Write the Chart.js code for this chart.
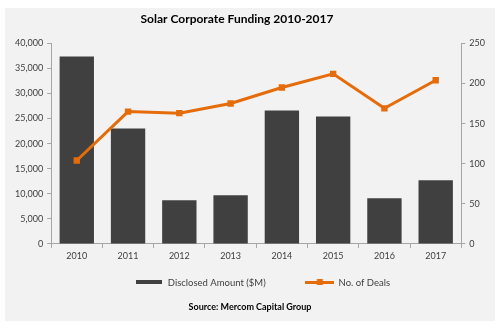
<!DOCTYPE html>
<html>
<head>
<meta charset="utf-8">
<script src="https://cdn.jsdelivr.net/npm/chart.js@4/dist/chart.umd.min.js"></script>
<style>
  html, body { margin: 0; padding: 0; background: #fff; }
  body { width: 499px; height: 328px; position: relative; overflow: hidden; }
  .panel { position: absolute; left: 5px; top: 8px; width: 490px; height: 313px; background: #f2f2f2; }
  canvas { display: block; }
</style>
</head>
<body>
<div class="panel"><canvas id="fundingChart" width="490" height="313"></canvas></div>
<script>
// 2010-2017 solar corporate funding
const years = ['2010', '2011', '2012', '2013', '2014', '2015', '2016', '2017'];
const amountMillions = [37400, 23000, 8700, 9700, 26600, 25400, 9100, 12700];
const dealCounts = [104, 165, 163, 175, 195, 212, 169, 204];

const BAR_COLOR = '#404040';
const LINE_COLOR = '#e46c0a';
const AXIS_COLOR = '#a6a6a6';
const TEXT_COLOR = '#404040';
const FONT = 'Lato, "Open Sans", sans-serif';

/**
 * 生成图例图标（柱形色块 / 带方形标记的折线）
 */
function makeLegendIcon(w, h, draw) {
    const c = document.createElement('canvas');
    c.width = w;
    c.height = h;
    draw(c.getContext('2d'), w, h);
    return c;
}

const barIcon = makeLegendIcon(26, 4, (g, w, h) => {
    g.fillStyle = BAR_COLOR;
    g.fillRect(0, 0, w, h);
});

const lineIcon = makeLegendIcon(29, 7, (g, w, h) => {
    g.fillStyle = LINE_COLOR;
    g.fillRect(0, 2, w, 3);
    g.fillRect(w / 2 - 3, 0, 6, 6);
});

// 标题略偏左，图例起点固定
const blockOffset = {
    id: 'blockOffset',
    afterLayout(chart) {
        if (chart.titleBlock) {
            chart.titleBlock.left -= 13;
            chart.titleBlock.right -= 13;
        }
        if (chart.legend) {
            chart.legend.left = 116;
            chart.legend.top -= 1;
        }
    }
};

const ctx = document.getElementById('fundingChart').getContext('2d');
new Chart(ctx, {
    data: {
        labels: years,
        datasets: [
            {
                type: 'bar',
                label: 'Disclosed Amount ($M)',
                data: amountMillions,
                backgroundColor: BAR_COLOR,
                borderWidth: 0,
                barPercentage: 0.67,
                categoryPercentage: 1,
                yAxisID: 'y',
                order: 1
            },
            {
                type: 'line',
                label: 'No. of Deals',
                data: dealCounts,
                borderColor: LINE_COLOR,
                backgroundColor: LINE_COLOR,
                borderWidth: 3,
                pointStyle: 'rect',
                pointRadius: 4.5,
                pointBackgroundColor: LINE_COLOR,
                pointBorderWidth: 0,
                tension: 0,
                yAxisID: 'y1',
                order: 0
            }
        ]
    },
    options: {
        responsive: false,
        animation: false,
        layout: { padding: { left: 6, right: 6, top: 0, bottom: 1 } },
        plugins: {
            title: {
                display: true,
                text: 'Solar Corporate Funding 2010-2017',
                color: '#000',
                font: { family: FONT, size: 12, weight: 'bold' },
                padding: { top: 4, bottom: 17 }
            },
            subtitle: {
                display: true,
                position: 'bottom',
                text: 'Source: Mercom Capital Group',
                color: '#000',
                font: { family: FONT, size: 9, weight: 'bold' },
                padding: { top: 3, bottom: 8 }
            },
            legend: {
                position: 'bottom',
                align: 'start',
                labels: {
                    usePointStyle: true,
                    pointStyleWidth: 28,
                    boxHeight: 7,
                    padding: 14,
                    color: TEXT_COLOR,
                    font: { family: FONT, size: 9.5 },
                    sort: (a, b) => a.datasetIndex - b.datasetIndex,
                    generateLabels(chart) {
                        const items = Chart.defaults.plugins.legend.labels.generateLabels(chart);
                        items.forEach(item => {
                            if (item.datasetIndex === 0) {
                                item.pointStyle = barIcon;
                                // 两个图例项之间留出较宽的间隔
                                item.text += '\u2003\u2003\u2003\u2002';
                            } else {
                                item.pointStyle = lineIcon;
                            }
                        });
                        return items;
                    }
                }
            },
            tooltip: { enabled: false }
        },
        scales: {
            x: {
                grid: { drawOnChartArea: false, color: AXIS_COLOR, tickLength: 4, offset: true },
                border: { color: AXIS_COLOR },
                ticks: { color: TEXT_COLOR, font: { family: FONT, size: 9 }, padding: 3 }
            },
            y: {
                position: 'left',
                min: 0,
                max: 40000,
                grid: { drawOnChartArea: false, color: AXIS_COLOR, tickLength: 4 },
                border: { color: AXIS_COLOR },
                ticks: {
                    stepSize: 5000,
                    color: TEXT_COLOR,
                    font: { family: FONT, size: 9 },
                    padding: 4,
                    callback: v => v.toLocaleString('en-US')
                }
            },
            y1: {
                position: 'right',
                min: 0,
                max: 250,
                grid: { drawOnChartArea: false, color: AXIS_COLOR, tickLength: 4 },
                border: { color: AXIS_COLOR },
                ticks: { stepSize: 50, color: TEXT_COLOR, font: { family: FONT, size: 9 }, padding: 4 }
            }
        }
    },
    plugins: [blockOffset]
});
</script>
</body>
</html>
